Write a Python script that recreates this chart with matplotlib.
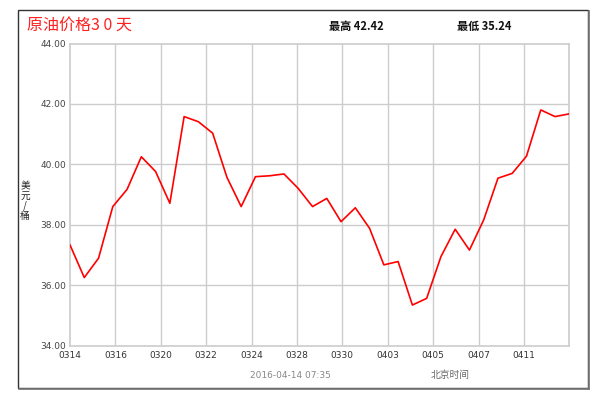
import matplotlib
matplotlib.use("Agg")
import matplotlib.pyplot as plt
from matplotlib.patches import Rectangle
from matplotlib.lines import Line2D
import numpy as np

plt.rcParams['font.family'] = ['Noto Sans CJK SC', 'DejaVu Sans']

title = "原油价格3 0 天"
high_label = "最高"
high_value = "42.42"
low_label = "最低"
low_value = "35.24"
date_text = "2016-04-14 07:35"
tz_text = "北京时间"
unit_text = "美\n元\n/\n桶"

prices = [37.33, 36.25, 36.89, 38.60, 39.17, 40.25, 39.76, 38.71, 41.58, 41.41,
          41.03, 39.57, 38.60, 39.59, 39.62, 39.68, 39.20, 38.60, 38.87, 38.10,
          38.56, 37.88, 36.67, 36.78, 35.34, 35.56, 36.94, 37.85, 37.16, 38.16,
          39.54, 39.70, 40.27, 41.80, 41.58, 41.67]
x_labels = ["0314", "0316", "0320", "0322", "0324", "0328", "0330",
            "0403", "0405", "0407", "0411"]
y_ticks = [34.0, 36.0, 38.0, 40.0, 42.0, 44.0]

fig = plt.figure(figsize=(6.0, 3.98), dpi=100)
fig.patch.set_facecolor("white")

W, H = 600.0, 398.0
def fx(px):
    return px / W
def fy(py):
    return 1 - py / H

# outer frame
fig.add_artist(Rectangle((fx(18), fy(388)), fx(588) - fx(18), fy(10) - fy(388),
                         transform=fig.transFigure, fill=False, edgecolor="#333333", lw=1.0))
fig.add_artist(Line2D([fx(589), fx(589)], [fy(389), fy(11)], transform=fig.transFigure,
                      color="#777777", lw=1.2))
fig.add_artist(Line2D([fx(19), fx(589)], [fy(389), fy(389)], transform=fig.transFigure,
                      color="#777777", lw=1.2))

ax = fig.add_axes([fx(70), fy(345.5), fx(569.3) - fx(70), fy(43.5) - fy(345.5)])
n = len(prices)
x = np.arange(n)
ax.plot(x, prices, color="#ff0000", lw=1.2, zorder=3)
ax.set_xlim(0, n - 1)
ax.set_ylim(y_ticks[0], y_ticks[-1])

xt = [i * (n - 1) / len(x_labels) for i in range(len(x_labels))]
ax.set_xticks(xt)
ax.set_xticklabels(x_labels, fontsize=6.5, color="#333333", family="DejaVu Sans")
ax.set_yticks(y_ticks)
ax.set_yticklabels([f"{v:.2f}" for v in y_ticks], fontsize=6.5, color="#444444",
                   family="DejaVu Sans")
ax.tick_params(length=0, pad=3)
ax.tick_params(axis='x', pad=4)
for v in xt[1:]:
    ax.axvline(v, color="#cccccc", lw=1.0, zorder=1)
for v in y_ticks[1:-1]:
    ax.axhline(v, color="#cccccc", lw=1.0, zorder=1)
for s in ax.spines.values():
    s.set_color("#cccccc")
    s.set_linewidth(1.2)

fig.text(fx(27), fy(26), title, color="#ff2020", fontsize=11.5, ha="left", va="center")
fig.text(fx(329), fy(26), high_label + " " + high_value, color="#111111", fontsize=8,
         fontweight="bold", ha="left", va="center")
fig.text(fx(457), fy(26), low_label + " " + low_value, color="#111111", fontsize=8,
         fontweight="bold", ha="left", va="center")
fig.text(fx(290), fy(375), date_text, color="#888888", fontsize=6.5, ha="center",
         va="center", family="DejaVu Sans")
fig.text(fx(450), fy(375), tz_text, color="#666666", fontsize=7, ha="center", va="center")
fig.text(fx(25), fy(201), unit_text, color="#222222", fontsize=7, ha="center", va="center",
         linespacing=0.95)

fig.savefig("out.png", dpi=100, facecolor="white")
